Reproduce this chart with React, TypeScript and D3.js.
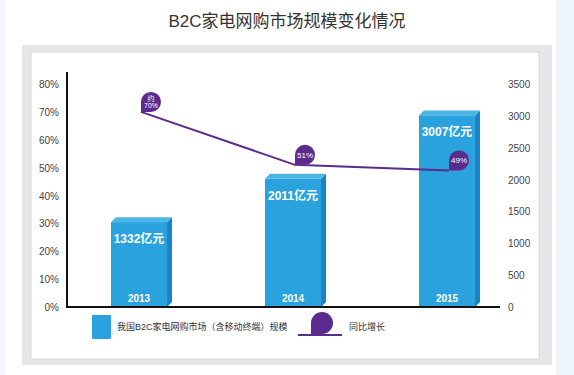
import React, { useEffect, useRef } from "react";
import * as d3 from "d3";

const years = ["2013", "2014", "2015"];
const marketSize = [1332, 2011, 3007]; // 亿元
const growth = [70, 51, 49]; // %
const growthLabels = [["约", "70%"], ["51%"], ["49%"]];
const pctTicks = [0, 10, 20, 30, 40, 50, 60, 70, 80];
const sizeTicks = [0, 500, 1000, 1500, 2000, 2500, 3000, 3500];

const FONT = "'Liberation Sans', 'Noto Sans CJK SC', sans-serif";

export default function App() {
  const svgRef = useRef<SVGSVGElement>(null);

  useEffect(() => {
    if (!svgRef.current) return;
    const svg = d3.select(svgRef.current);
    svg.selectAll("*").remove();

    // background + panels
    svg.append("rect").attr("width", 574).attr("height", 375).attr("fill", "#fff");
    svg.append("rect").attr("x", 0).attr("y", 0).attr("width", 6).attr("height", 375).attr("fill", "#f3f7fb");
    svg.append("rect").attr("x", 556).attr("y", 0).attr("width", 18).attr("height", 375).attr("fill", "#eef5fb");
    svg.append("rect").attr("x", 22).attr("y", 45).attr("width", 530).attr("height", 320).attr("fill", "#e6e6e6");
    svg.append("rect").attr("x", 31).attr("y", 52).attr("width", 508).attr("height", 307)
      .attr("fill", "#fff").attr("stroke", "#cfcfcf").attr("stroke-width", 0.8);

    svg.append("text")
      .attr("x", 287).attr("y", 27)
      .attr("text-anchor", "middle")
      .attr("font-family", FONT)
      .attr("font-size", 17)
      .attr("fill", "#333")
      .text("B2C家电网购市场规模变化情况");

    const bottom = 307;
    const yPct = d3.scaleLinear().domain([0, 80]).range([bottom, 84]);
    const ySize = d3.scaleLinear().domain([0, 3500]).range([bottom, 84]);
    const x = d3.scaleBand().domain(years).range([62, 524]).paddingInner(0.636).paddingOuter(0.318);

    const g = svg.append("g");

    // left ticks
    g.selectAll(".lt").data(pctTicks).join("text")
      .attr("x", 59).attr("y", (d) => yPct(d) + 4)
      .attr("text-anchor", "end")
      .attr("font-family", FONT).attr("font-size", 10).attr("fill", "#444")
      .text((d) => d + "%");

    // right ticks
    g.selectAll(".rt").data(sizeTicks).join("text")
      .attr("x", 508).attr("y", (d) => ySize(d) + 4)
      .attr("font-family", FONT).attr("font-size", 10).attr("fill", "#444")
      .text((d) => d);

    // bars (pseudo 3D)
    const dx = 5, dy = 5;
    years.forEach((yr, i) => {
      const x0 = x(yr)!;
      const w = x.bandwidth();
      const top = ySize(marketSize[i]);
      // side
      g.append("path")
        .attr("d", `M${x0 + w},${top} L${x0 + w + dx},${top - dy} L${x0 + w + dx},${bottom - dy} L${x0 + w},${bottom} Z`)
        .attr("fill", "#1b82c4");
      // top
      g.append("path")
        .attr("d", `M${x0},${top} L${x0 + dx},${top - dy} L${x0 + w + dx},${top - dy} L${x0 + w},${top} Z`)
        .attr("fill", "#4bb6e6");
      // front
      g.append("rect")
        .attr("x", x0).attr("y", top).attr("width", w).attr("height", bottom - top)
        .attr("fill", "#29a2de");
      g.append("text")
        .attr("x", x0 + w / 2).attr("y", top + 21)
        .attr("text-anchor", "middle")
        .attr("font-family", FONT).attr("font-size", 12).attr("font-weight", "bold")
        .attr("fill", "#fff")
        .text(marketSize[i] + "亿元");
      g.append("text")
        .attr("x", x0 + w / 2).attr("y", bottom - 5)
        .attr("text-anchor", "middle")
        .attr("font-family", FONT).attr("font-size", 10).attr("font-weight", "bold")
        .attr("fill", "#fff")
        .text(yr);
    });

    // axes lines
    g.append("line").attr("x1", 67).attr("x2", 67).attr("y1", 72).attr("y2", bottom + 1)
      .attr("stroke", "#111").attr("stroke-width", 2);
    g.append("line").attr("x1", 66).attr("x2", 500).attr("y1", bottom).attr("y2", bottom)
      .attr("stroke", "#111").attr("stroke-width", 2);

    // growth line
    const purple = "#5c2b8e";
    const pts: [number, number][] = years.map((yr, i) => [x(yr)! + x.bandwidth() / 2 + 2, yPct(growth[i])]);
    g.append("path")
      .datum(pts)
      .attr("fill", "none")
      .attr("stroke", purple)
      .attr("stroke-width", 2)
      .attr("d", d3.line());

    const bubble = (px: number, py: number, r: number) =>
      `M${px},${py} L${px},${py - r} A${r},${r} 0 1 1 ${px + r},${py} Z`;

    pts.forEach(([px, py], i) => {
      const r = 10;
      g.append("path").attr("d", bubble(px, py, r)).attr("fill", purple);
      const lines = growthLabels[i];
      lines.forEach((t, j) => {
        g.append("text")
          .attr("x", px + r)
          .attr("y", lines.length === 1 ? py - r + 3 : py - r - 1 + j * 7)
          .attr("text-anchor", "middle")
          .attr("font-family", FONT).attr("font-size", lines.length === 1 ? 8 : 7)
          .attr("fill", "#fff")
          .text(t);
      });
    });

    // legend
    g.append("rect").attr("x", 92).attr("y", 315).attr("width", 19).attr("height", 24)
      .attr("rx", 1).attr("fill", "#29a2de");
    g.append("text").attr("x", 117).attr("y", 330)
      .attr("font-family", FONT).attr("font-size", 9).attr("fill", "#333")
      .text("我国B2C家电网购市场（含移动终端）规模");
    g.append("line").attr("x1", 298).attr("x2", 342).attr("y1", 335).attr("y2", 335)
      .attr("stroke", purple).attr("stroke-width", 2);
    g.append("path").attr("d", bubble(311, 334, 11)).attr("fill", purple);
    g.append("text").attr("x", 349).attr("y", 330)
      .attr("font-family", FONT).attr("font-size", 9).attr("fill", "#333")
      .text("同比增长");
  }, []);

  return (
    <div style={{ position: "absolute", left: 0, top: 0 }}>
      <svg ref={svgRef} width={574} height={375} style={{ display: "block" }} />
    </div>
  );
}
